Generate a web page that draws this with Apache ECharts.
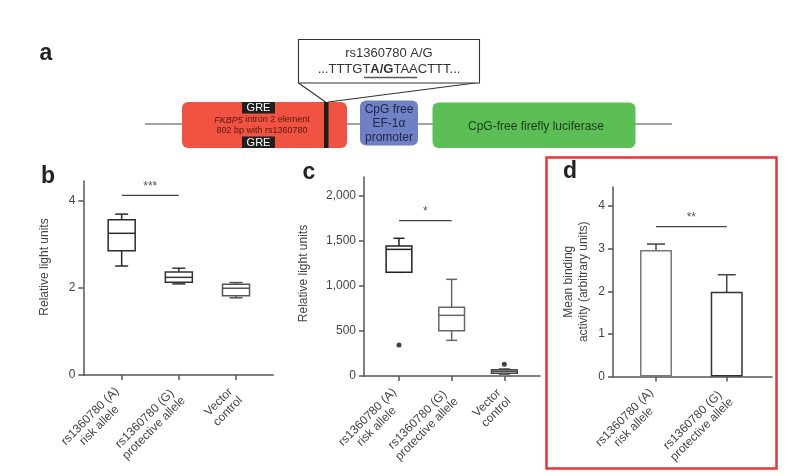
<!DOCTYPE html>
<html>
<head>
<meta charset="utf-8">
<script src="https://cdn.jsdelivr.net/npm/echarts@6/dist/echarts.min.js"></script>
<style>
html,body{margin:0;padding:0;background:#fff;}
#chart{width:788px;height:476px;}
</style>
</head>
<body>
<div id="chart"></div>
<script>
// ---------- DATA ----------
const categoriesBC = ['rs1360780 (A)\nrisk allele', 'rs1360780 (G)\nprotective allele', 'Vector\ncontrol'];
const categoriesD = ['rs1360780 (A)\nrisk allele', 'rs1360780 (G)\nprotective allele'];
// [min, Q1, median, Q3, max]
const boxB = [[2.50, 2.85, 3.25, 3.56, 3.69], [2.09, 2.13, 2.24, 2.36, 2.45], [1.77, 1.82, 1.99, 2.08, 2.12]];
const boxC = [[1152, 1152, 1407, 1444, 1530], [396, 504, 674, 763, 1074], [22, 30, 52, 70, 78]];
const outliersC = [[0, 344], [2, 130]];
const meansD = [2.97, 1.99];
const errD = [[2.83, 3.11], [1.61, 2.39]];
const sigB = [[0, 1, 4.12]];
const sigC = [[0, 1, 1726]];
const sigD = [[0, 1, 3.52]];
const sigLabelB = ['***'];
const sigLabelC = ['*'];
const sigLabelD = ['**'];
const yTicksB = [0, 2, 4];
const yTicksC = [0, 500, 1000, 1500, 2000];
const yTicksD = [0, 1, 2, 3, 4];
const xTicksBC = [0, 1, 2];
const xTicksD = [0, 1];

// ---------- STYLE ----------
const FONT = 'Liberation Sans, Arial, sans-serif';
const AX = '#555';
const TXT = '#444';
const boxStrokeB = ['#2a2a2a', '#333', '#555'];
const boxStrokeC = ['#222', '#666', '#444'];
const barStrokeD = ['#777', '#333'];

const chart = echarts.init(document.getElementById('chart'), null, {renderer: 'canvas'});

function catFormatter(list) {
  return function (v) {
    const s = list[Math.round(v)];
    if (s === undefined) return '';
    return s.split('\n').map(t => '{c|' + t + '}').join('\n');
  };
}

function xAxisCfg(gridIndex, min, max, ticks, cats) {
  return {
    type: 'value', gridIndex: gridIndex, min: min, max: max,
    splitLine: {show: false},
    axisLine: {show: true, onZero: false, lineStyle: {color: AX, width: 1.5}},
    axisTick: {show: true, customValues: ticks, length: 5, lineStyle: {color: AX, width: 1.5}},
    axisLabel: {
      show: true, customValues: ticks, rotate: 45, margin: 19,
      formatter: catFormatter(cats),
      rich: {c: {align: 'center', fontSize: 12, lineHeight: 13, color: TXT, fontFamily: FONT}}
    }
  };
}

function yAxisCfg(gridIndex, max, ticks, name, gap, shift, fmt) {
  return {
    type: 'value', gridIndex: gridIndex, min: 0, max: max,
    splitLine: {show: false},
    axisLine: {show: true, onZero: false, lineStyle: {color: AX, width: 1.5}},
    axisTick: {show: true, customValues: ticks, length: 5, lineStyle: {color: AX, width: 1.5}},
    axisLabel: {show: true, customValues: ticks, margin: 8, fontSize: 12, color: TXT, fontFamily: FONT,
      formatter: fmt || (v => String(v))},
    name: name, nameLocation: 'middle', nameGap: gap, nameRotate: 90,
    nameTextStyle: {fontSize: 12, color: TXT, fontFamily: FONT, lineHeight: 15, padding: [0, 0, 0, shift]}
  };
}

function boxRenderer(boxWidth, capWidth, strokes) {
  return function (params, api) {
    const x = api.value(0);
    const pMin = api.coord([x, api.value(1)]);
    const pQ1 = api.coord([x, api.value(2)]);
    const pMed = api.coord([x, api.value(3)]);
    const pQ3 = api.coord([x, api.value(4)]);
    const pMax = api.coord([x, api.value(5)]);
    const cx = pMin[0];
    const st = {stroke: strokes[params.dataIndex] || '#333', lineWidth: 1.5, fill: null};
    return {
      type: 'group',
      children: [
        {type: 'line', shape: {x1: cx, y1: pQ3[1], x2: cx, y2: pMax[1]}, style: st},
        {type: 'line', shape: {x1: cx, y1: pQ1[1], x2: cx, y2: pMin[1]}, style: st},
        {type: 'line', shape: {x1: cx - capWidth / 2, y1: pMax[1], x2: cx + capWidth / 2, y2: pMax[1]}, style: st},
        {type: 'line', shape: {x1: cx - capWidth / 2, y1: pMin[1], x2: cx + capWidth / 2, y2: pMin[1]}, style: st},
        {type: 'rect', shape: {x: cx - boxWidth / 2, y: pQ3[1], width: boxWidth, height: pQ1[1] - pQ3[1]},
          style: {stroke: st.stroke, lineWidth: 1.5, fill: '#fff'}},
        {type: 'line', shape: {x1: cx - boxWidth / 2, y1: pMed[1], x2: cx + boxWidth / 2, y2: pMed[1]}, style: st}
      ]
    };
  };
}

function errRenderer(capWidth) {
  return function (params, api) {
    const x = api.value(0);
    const lo = api.coord([x, api.value(1)]);
    const hi = api.coord([x, api.value(2)]);
    const cx = lo[0];
    const st = {stroke: '#444', lineWidth: 1.5};
    return {
      type: 'group',
      children: [
        {type: 'line', shape: {x1: cx, y1: lo[1], x2: cx, y2: hi[1]}, style: st},
        {type: 'line', shape: {x1: cx - capWidth / 2, y1: lo[1], x2: cx + capWidth / 2, y2: lo[1]}, style: st},
        {type: 'line', shape: {x1: cx - capWidth / 2, y1: hi[1], x2: cx + capWidth / 2, y2: hi[1]}, style: st}
      ]
    };
  };
}

function sigRenderer(labels) {
  return function (params, api) {
    const y = api.value(2);
    const a = api.coord([api.value(0), y]);
    const b = api.coord([api.value(1), y]);
    return {
      type: 'group',
      children: [
        {type: 'line', shape: {x1: a[0], y1: a[1], x2: b[0], y2: b[1]}, style: {stroke: '#444', lineWidth: 1.3}},
        {type: 'text', x: (a[0] + b[0]) / 2, y: a[1] - 3,
          style: {text: labels[params.dataIndex], align: 'center', verticalAlign: 'bottom',
            font: '12px ' + FONT, fill: '#555'}}
      ]
    };
  };
}

const graphics = [
  // panel labels
  {type: 'text', style: {text: 'a', x: 46, y: 54, align: 'center', verticalAlign: 'middle', font: 'bold 23px ' + FONT, fill: '#222'}},
  {type: 'text', style: {text: 'b', x: 48, y: 177, align: 'center', verticalAlign: 'middle', font: 'bold 23px ' + FONT, fill: '#222'}},
  {type: 'text', style: {text: 'c', x: 309, y: 173, align: 'center', verticalAlign: 'middle', font: 'bold 23px ' + FONT, fill: '#222'}},
  {type: 'text', style: {text: 'd', x: 570, y: 172, align: 'center', verticalAlign: 'middle', font: 'bold 23px ' + FONT, fill: '#222'}},
  // panel d frame
  {type: 'rect', shape: {x: 546.5, y: 157.5, width: 230, height: 311}, style: {fill: null, stroke: '#e8353a', lineWidth: 2.5}},
  // construct backbone
  {type: 'line', shape: {x1: 145, y1: 124, x2: 672, y2: 124}, style: {stroke: '#444', lineWidth: 1.2}},
  // callout
  {type: 'line', shape: {x1: 298.5, y1: 83, x2: 325.5, y2: 102}, style: {stroke: '#333', lineWidth: 1.1}},
  {type: 'line', shape: {x1: 479, y1: 82.5, x2: 328, y2: 102}, style: {stroke: '#333', lineWidth: 1.1}},
  {type: 'rect', shape: {x: 298.5, y: 39.5, width: 181, height: 43.5}, style: {fill: '#fff', stroke: '#333', lineWidth: 1.1}},
  {type: 'text', style: {text: 'rs1360780 A/G', x: 389, y: 53.5, align: 'center', verticalAlign: 'middle', fontSize: 13, fill: '#333', fontFamily: FONT}},
  {type: 'text', style: {text: '...TTTGT{b|A/G}TAACTTT...', x: 389, y: 69.5, align: 'center', verticalAlign: 'middle', fontSize: 13, fill: '#333', fontFamily: FONT,
    rich: {b: {fontWeight: 'bold', fontSize: 13, fill: '#333', fontFamily: FONT}}}},
  {type: 'line', shape: {x1: 364, y1: 77.5, x2: 417, y2: 77.5}, style: {stroke: '#555', lineWidth: 1.3}},
  // FKBP5 element
  {type: 'rect', shape: {x: 182, y: 102, width: 165, height: 46, r: 6}, style: {fill: '#f05341'}},
  {type: 'rect', shape: {x: 242, y: 102, width: 33, height: 11.5}, style: {fill: '#1f1f1f'}},
  {type: 'rect', shape: {x: 242, y: 136.5, width: 33, height: 11.5}, style: {fill: '#1f1f1f'}},
  {type: 'text', style: {text: 'GRE', x: 258.5, y: 108, align: 'center', verticalAlign: 'middle', fontSize: 11, fill: '#fff', fontFamily: FONT}},
  {type: 'text', style: {text: 'GRE', x: 258.5, y: 142.5, align: 'center', verticalAlign: 'middle', fontSize: 11, fill: '#fff', fontFamily: FONT}},
  {type: 'text', style: {text: '{i|FKBP5} intron 2 element', x: 262, y: 120, align: 'center', verticalAlign: 'middle', fontSize: 9, fill: '#5a1810', fontFamily: FONT,
    rich: {i: {fontStyle: 'italic', fontSize: 9, fill: '#5a1810', fontFamily: FONT}}}},
  {type: 'text', style: {text: '802 bp with rs1360780', x: 262, y: 130.5, align: 'center', verticalAlign: 'middle', fontSize: 9, fill: '#5a1810', fontFamily: FONT}},
  {type: 'rect', shape: {x: 324, y: 102, width: 4.5, height: 46}, style: {fill: '#1c1c1c'}},
  // promoter
  {type: 'rect', shape: {x: 360, y: 100.5, width: 58, height: 45, r: 6}, style: {fill: '#7080c4'}},
  {type: 'text', style: {text: 'CpG free', x: 389, y: 110, align: 'center', verticalAlign: 'middle', fontSize: 12, fill: '#22264a', fontFamily: FONT}},
  {type: 'text', style: {text: 'EF-1\u03b1', x: 389, y: 124, align: 'center', verticalAlign: 'middle', fontSize: 12, fill: '#22264a', fontFamily: FONT}},
  {type: 'text', style: {text: 'promoter', x: 389, y: 138, align: 'center', verticalAlign: 'middle', fontSize: 12, fill: '#22264a', fontFamily: FONT}},
  // luciferase
  {type: 'rect', shape: {x: 432.5, y: 102.5, width: 203, height: 45.5, r: 6}, style: {fill: '#5cbf55'}},
  {type: 'text', style: {text: 'CpG-free firefly luciferase', x: 536, y: 127, align: 'center', verticalAlign: 'middle', fontSize: 12, fill: '#1d3a1a', fontFamily: FONT}}
];

const option = {
  animation: false,
  backgroundColor: '#fff',
  textStyle: {fontFamily: FONT},
  grid: [
    {left: 83.3, top: 181, width: 190, height: 194, outerBoundsMode: 'none', containLabel: false},
    {left: 364, top: 177, width: 176, height: 199, outerBoundsMode: 'none', containLabel: false},
    {left: 613, top: 187, width: 159, height: 189.5, outerBoundsMode: 'none', containLabel: false}
  ],
  xAxis: [
    xAxisCfg(0, -0.671, 2.652, xTicksBC, categoriesBC),
    xAxisCfg(1, -0.664, 2.677, xTicksBC, categoriesBC),
    xAxisCfg(2, -0.608, 1.64, xTicksD, categoriesD)
  ],
  yAxis: [
    yAxisCfg(0, 4.45, yTicksB, 'Relative light units', 31, 22),
    yAxisCfg(1, 2211, yTicksC, 'Relative light units', 53, 6, v => v.toLocaleString('en-US')),
    yAxisCfg(2, 4.45, yTicksD, 'Mean binding\nactivity (arbitrary units)', 22, 0)
  ],
  series: [
    {type: 'custom', xAxisIndex: 0, yAxisIndex: 0, renderItem: boxRenderer(27, 13, boxStrokeB),
      encode: {x: 0, y: [1, 2, 3, 4, 5]}, data: boxB.map((b, i) => [i].concat(b))},
    {type: 'custom', xAxisIndex: 1, yAxisIndex: 1, renderItem: boxRenderer(25.7, 11, boxStrokeC),
      encode: {x: 0, y: [1, 2, 3, 4, 5]}, data: boxC.map((b, i) => [i].concat(b))},
    {type: 'scatter', xAxisIndex: 1, yAxisIndex: 1, symbol: 'circle', symbolSize: 5,
      itemStyle: {color: '#111'}, data: outliersC},
    {type: 'bar', xAxisIndex: 2, yAxisIndex: 2, barWidth: 32,
      itemStyle: {color: '#fff', borderColor: '#444', borderWidth: 1.5},
      data: meansD.map((v, i) => ({value: [i, v], itemStyle: {borderColor: barStrokeD[i]}}))},
    {type: 'custom', xAxisIndex: 2, yAxisIndex: 2, renderItem: errRenderer(18),
      encode: {x: 0, y: [1, 2]}, data: errD.map((e, i) => [i, e[0], e[1]])},
    {type: 'custom', xAxisIndex: 0, yAxisIndex: 0, renderItem: sigRenderer(sigLabelB), encode: {x: [0, 1], y: 2}, data: sigB},
    {type: 'custom', xAxisIndex: 1, yAxisIndex: 1, renderItem: sigRenderer(sigLabelC), encode: {x: [0, 1], y: 2}, data: sigC},
    {type: 'custom', xAxisIndex: 2, yAxisIndex: 2, renderItem: sigRenderer(sigLabelD), encode: {x: [0, 1], y: 2}, data: sigD}
  ],
  graphic: graphics
};
chart.setOption(option);
</script>
</body>
</html>
